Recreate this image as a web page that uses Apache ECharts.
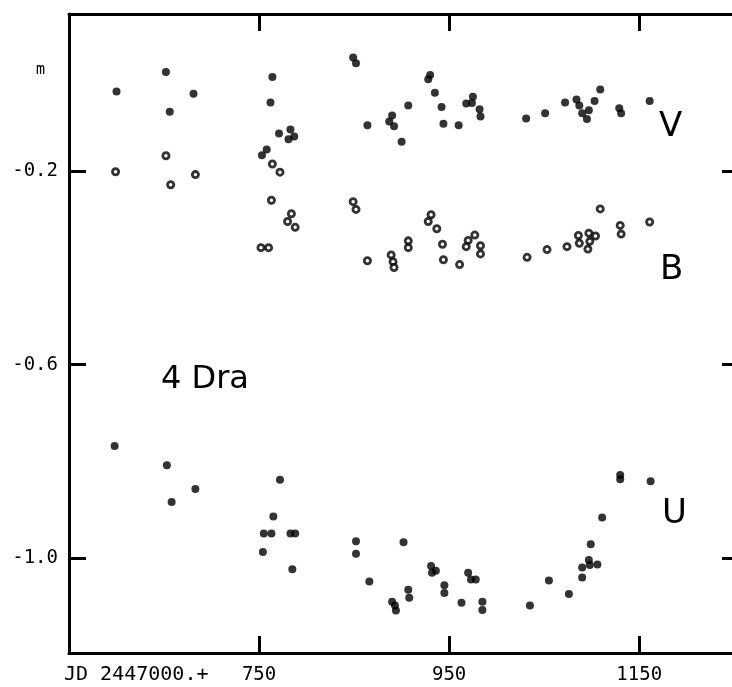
<!DOCTYPE html>
<html>
<head>
<meta charset="utf-8">
<script src="https://cdn.jsdelivr.net/npm/echarts@6/dist/echarts.min.js"></script>
<style>html,body{margin:0;padding:0;background:#fff;}#c{width:732px;height:687px;}</style>
</head>
<body>
<div id="c"></div>
<script>
// JD - 2447000 and magnitudes
const vJD = [600,652,656,681,764,762,771,783,781,787,758,753,849,852,930,928,935,907,942,975,968,974,982,983,890,887,892,864,944,960,900,1031,1051,1072,1084,1087,1103,1109,1090,1097,1095,1129,1131,1161];
const vMag = [-0.035,0.005,-0.077,-0.040,-0.005,-0.058,-0.122,-0.114,-0.134,-0.128,-0.155,-0.167,0.035,0.023,-0.001,-0.010,-0.038,-0.064,-0.067,-0.046,-0.060,-0.059,-0.072,-0.087,-0.085,-0.097,-0.107,-0.105,-0.102,-0.105,-0.139,-0.091,-0.080,-0.058,-0.052,-0.064,-0.055,-0.031,-0.080,-0.074,-0.092,-0.070,-0.080,-0.055];

const bJD = [599,652,657,683,764,772,763,784,780,788,752,760,849,852,931,928,937,907,907,943,977,970,968,983,983,864,889,891,892,944,961,1032,1053,1074,1086,1087,1097,1098,1104,1096,1109,1130,1131,1161];
const bMag = [-0.201,-0.168,-0.228,-0.207,-0.185,-0.202,-0.260,-0.288,-0.304,-0.316,-0.358,-0.358,-0.263,-0.279,-0.290,-0.304,-0.319,-0.344,-0.358,-0.351,-0.332,-0.343,-0.356,-0.354,-0.371,-0.385,-0.373,-0.387,-0.399,-0.383,-0.393,-0.378,-0.362,-0.356,-0.333,-0.349,-0.328,-0.345,-0.334,-0.361,-0.278,-0.312,-0.330,-0.305];

const uJD = [598,653,658,683,772,765,755,763,783,788,754,785,852,852,902,866,890,893,894,907,908,931,932,936,945,945,970,973,978,963,985,985,1035,1055,1076,1090,1090,1097,1098,1106,1099,1111,1130,1130,1162];
const uMag = [-0.768,-0.808,-0.884,-0.857,-0.838,-0.914,-0.949,-0.949,-0.949,-0.949,-0.987,-1.023,-0.965,-0.991,-0.967,-1.048,-1.090,-1.098,-1.108,-1.065,-1.082,-1.016,-1.030,-1.026,-1.056,-1.072,-1.030,-1.044,-1.044,-1.092,-1.090,-1.107,-1.098,-1.046,-1.074,-1.040,-1.019,-1.004,-1.014,-1.013,-0.971,-0.916,-0.828,-0.837,-0.841];

const xTicks = [750, 950, 1150];
const yTicks = [-0.2, -0.6, -1.0];

const zip = (a, b) => a.map((v, i) => [v, b[i]]);
const ink = '#000';
const mono = '"DejaVu Sans Mono", "Liberation Mono", monospace';

const chart = echarts.init(document.getElementById('c'), null, {renderer: 'canvas'});

const lineStyle = {color: ink, width: 3};
const tickStyle = {color: ink, width: 3};

const xBase = {
  type: 'value', min: 550, max: 1255,
  axisLine: {show: true, onZero: false, lineStyle},
  axisTick: {show: true, inside: true, length: 17, lineStyle: tickStyle, customValues: xTicks},
  splitLine: {show: false}
};
const yBase = {
  type: 'value', min: -1.196, max: 0.125,
  axisLine: {show: true, onZero: false, lineStyle},
  axisTick: {show: true, inside: true, length: 17, lineStyle: tickStyle, customValues: yTicks},
  splitLine: {show: false}
};

chart.setOption({
  animation: false,
  backgroundColor: '#fff',
  grid: {left: 69, top: 14, right: -7, bottom: 34, containLabel: false, outerBoundsMode: 'none'},
  xAxis: [
    Object.assign({}, xBase, {position: 'bottom',
      axisLabel: {show: true, customValues: xTicks, color: ink, fontFamily: mono, fontSize: 19, margin: 13,
        formatter: v => String(v)}}),
    Object.assign({}, xBase, {position: 'top', axisLabel: {show: false}})
  ],
  yAxis: [
    Object.assign({}, yBase, {position: 'left',
      axisLabel: {show: true, customValues: yTicks, color: ink, fontFamily: mono, fontSize: 19, margin: 11,
        formatter: v => v.toFixed(1)}}),
    Object.assign({}, yBase, {position: 'right', axisLabel: {show: false}})
  ],
  series: [
    {name: 'V', type: 'scatter', xAxisIndex: 0, yAxisIndex: 0, data: zip(vJD, vMag),
      symbol: 'circle', symbolSize: 8, itemStyle: {color: ink}},
    {name: 'B', type: 'scatter', xAxisIndex: 0, yAxisIndex: 0, data: zip(bJD, bMag),
      symbol: 'circle', symbolSize: 6.2, itemStyle: {color: '#fff', borderColor: ink, borderWidth: 2.8}},
    {name: 'U', type: 'scatter', xAxisIndex: 0, yAxisIndex: 0, data: zip(uJD, uMag),
      symbol: 'circle', symbolSize: 8, itemStyle: {color: ink}}
  ],
  graphic: [
    {type: 'text', left: 36, top: 63, style: {text: 'm', font: '15px ' + mono, fill: ink}},
    {type: 'text', left: 64, top: 665, style: {text: 'JD 2447000.+', font: '20px ' + mono, fill: ink}},
    {type: 'text', left: 161, top: 364, style: {text: '4 Dra', font: '32px "DejaVu Sans", sans-serif', fill: ink}},
    {type: 'text', left: 659, top: 110, style: {text: 'V', font: '34px "DejaVu Sans", sans-serif', fill: ink}},
    {type: 'text', left: 660, top: 253, style: {text: 'B', font: '34px "DejaVu Sans", sans-serif', fill: ink}},
    {type: 'text', left: 662, top: 497, style: {text: 'U', font: '34px "DejaVu Sans", sans-serif', fill: ink}}
  ]
});
</script>
</body>
</html>
